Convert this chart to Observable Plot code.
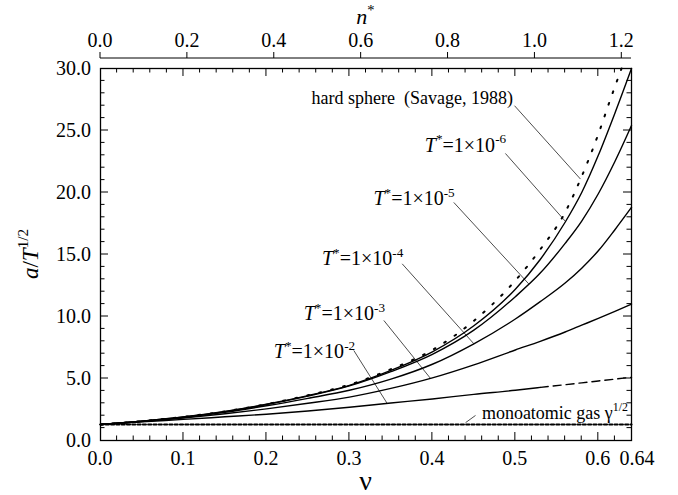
<!DOCTYPE html>
<html>
<head>
<meta charset="utf-8">
<script src="https://cdn.jsdelivr.net/npm/d3@7"></script>
<script src="https://cdn.jsdelivr.net/npm/@observablehq/plot@0.6"></script>
<style>
  html, body { margin: 0; padding: 0; background: #fff; }
</style>
</head>
<body>
<div id="chart"></div>
<script>
// Solid volume fraction grid shared by the soft-sphere curves
const nuGrid = [0, 0.05, 0.10, 0.15, 0.20, 0.25, 0.30, 0.35, 0.40, 0.45, 0.50, 0.53, 0.56, 0.58, 0.60, 0.62, 0.64];

// Sound speed a/T^(1/2) for soft spheres at several reduced temperatures T*
const curveT6 = [1.29, 1.56, 1.90, 2.34, 2.92, 3.62, 4.45, 5.65, 7.15, 9.25, 12.2, 14.6, 17.6, 20.0, 23.0, 26.4, 30.0];
const curveT5 = [1.29, 1.56, 1.89, 2.33, 2.90, 3.58, 4.40, 5.55, 6.95, 8.90, 11.6, 13.5, 15.9, 17.7, 19.9, 22.5, 25.4];
const curveT4 = [1.29, 1.55, 1.86, 2.27, 2.80, 3.40, 4.05, 4.95, 6.15, 7.80, 9.80, 11.2, 12.7, 13.9, 15.3, 17.0, 18.8];
const curveT3 = [1.29, 1.53, 1.82, 2.16, 2.55, 3.00, 3.50, 4.20, 5.05, 6.10, 7.30, 8.00, 8.75, 9.30, 9.85, 10.42, 11.0];

// T* = 1e-2: solid part, then the dashed continuation
const nuT2 = [0, 0.05, 0.10, 0.15, 0.20, 0.25, 0.30, 0.35, 0.40, 0.45, 0.50, 0.53];
const curveT2 = [1.29, 1.50, 1.70, 1.91, 2.12, 2.38, 2.68, 3.02, 3.35, 3.72, 4.05, 4.28];
const nuT2ext = [0.53, 0.56, 0.58, 0.60, 0.62, 0.64];
const curveT2ext = [4.28, 4.50, 4.65, 4.80, 4.95, 5.10];

// Hard-sphere result (Savage, 1988)
const nuHard = [0, 0.05, 0.10, 0.15, 0.20, 0.25, 0.30, 0.35, 0.40, 0.45, 0.50, 0.53, 0.56, 0.58, 0.60, 0.615, 0.628];
const curveHard = [1.29, 1.56, 1.90, 2.35, 2.93, 3.65, 4.50, 5.75, 7.30, 9.65, 12.9, 15.4, 18.4, 21.3, 24.7, 27.6, 30.0];

// Monoatomic gas limit gamma^(1/2)
const gasNu = [0, 0.64];
const gasValue = 1.29;

// Axis ticks and labels
const xTicks = [0, 0.1, 0.2, 0.3, 0.4, 0.5, 0.6, 0.64];
const xTickLabels = ["0.0", "0.1", "0.2", "0.3", "0.4", "0.5", "0.6", "0.64"];
const yTicks = [0, 5, 10, 15, 20, 25, 30];
const yTickLabels = ["0.0", "5.0", "10.0", "15.0", "20.0", "25.0", "30.0"];
const nStarTicks = [0, 0.2, 0.4, 0.6, 0.8, 1.0, 1.2];
const nStarTickLabels = ["0.0", "0.2", "0.4", "0.6", "0.8", "1.0", "1.2"];

const rows = (name, xs, ys) => xs.map((nu, i) => ({series: name, nu, v: ys[i]}));
const solidRows = [
  ...rows("T6", nuGrid, curveT6),
  ...rows("T5", nuGrid, curveT5),
  ...rows("T4", nuGrid, curveT4),
  ...rows("T3", nuGrid, curveT3),
  ...rows("T2", nuT2, curveT2)
];
const dashedRows = rows("T2", nuT2ext, curveT2ext);
const hardRows = rows("hard", nuHard, curveHard);
const gasRows = gasNu.map(nu => ({nu, v: gasValue}));

// value of a curve at volume fraction t (linear between samples)
function valueAt(xs, ys, t) {
  for (let i = 1; i < xs.length; i++) {
    if (t <= xs[i]) {
      const f = (t - xs[i - 1]) / (xs[i] - xs[i - 1]);
      return ys[i - 1] + f * (ys[i] - ys[i - 1]);
    }
  }
  return ys[ys.length - 1];
}

// Curve labels: text anchor, leader start, and the volume fraction where the leader meets its curve
const sup = t => ({t, sup: true});
const it = t => ({t, it: true});
const annotations = [
  {parts: [{t: "hard sphere\u00a0\u00a0(Savage, 1988)"}], x: 0.4977, y: 27.1, anchor: "end", size: 18,
   from: [0.499, 27.0], to: 0.5785, xs: nuHard, ys: curveHard},
  {parts: [it("T"), sup("*"), {t: "=1×10"}, sup("-6")], x: 0.4895, y: 23.25, anchor: "end", size: 20,
   from: [0.488, 23.15], to: 0.5605, xs: nuGrid, ys: curveT6},
  {parts: [it("T"), sup("*"), {t: "=1×10"}, sup("-5")], x: 0.4275, y: 18.95, anchor: "end", size: 20,
   from: [0.4258, 19.2], to: 0.5162, xs: nuGrid, ys: curveT5},
  {parts: [it("T"), sup("*"), {t: "=1×10"}, sup("-4")], x: 0.3655, y: 14.11, anchor: "end", size: 20,
   from: [0.3636, 14.25], to: 0.45, xs: nuGrid, ys: curveT4},
  {parts: [it("T"), sup("*"), {t: "=1×10"}, sup("-3")], x: 0.3435, y: 9.68, anchor: "end", size: 20,
   from: [0.3415, 9.68], to: 0.3977, xs: nuGrid, ys: curveT3},
  {parts: [it("T"), sup("*"), {t: "=1×10"}, sup("-2")], x: 0.3075, y: 6.61, anchor: "end", size: 20,
   from: [0.3053, 7.26], to: 0.3455, xs: nuT2, ys: curveT2},
  {parts: [{t: "monoatomic gas γ"}, sup("1/2")], x: 0.6364, y: 1.69, anchor: "end", size: 18,
   from: [0.452, 2.02], to: 0.44, xs: gasNu, ys: [gasValue + 0.15, gasValue + 0.15]}
];
const leaders = annotations.map(a => ({
  x1: a.from[0], y1: a.from[1], x2: a.to, y2: valueAt(a.xs, a.ys, a.to)
}));

const FONT = "'Liberation Serif', 'Times New Roman', serif";

// text with italic pieces and superscripts
function richText(parent, x, y, parts, size, anchor) {
  const t = parent.append("text")
    .attr("x", x).attr("y", y)
    .attr("font-size", size)
    .attr("text-anchor", anchor);
  let shift = 0;
  for (const p of parts) {
    const s = t.append("tspan").text(p.t);
    if (p.it) s.attr("font-style", "italic");
    const target = p.sup ? -0.42 * size : 0;
    if (target !== shift) { s.attr("dy", target - shift); shift = target; }
    if (p.sup) s.attr("font-size", size * 0.66);
  }
  return t;
}

// Frame ticks on all four sides, the upper n* axis, tick labels and axis titles
function axesMark(index, scales, values, dims) {
  const {x, y} = scales;
  const left = dims.marginLeft, right = dims.width - dims.marginRight;
  const top = dims.marginTop, bottom = dims.height - dims.marginBottom;
  const g = d3.create("svg:g").attr("font-family", FONT);

  const ticks = g.append("g").attr("stroke", "black").attr("stroke-width", 1).attr("fill", "none");
  // volume fraction ticks every 0.02, inward on the bottom and top edges
  for (let i = 1; i < 32; i++) {
    const px = x(i * 0.02);
    const len = i % 5 === 0 ? 8 : 4.5;
    ticks.append("line").attr("x1", px).attr("x2", px).attr("y1", bottom).attr("y2", bottom - len);
    ticks.append("line").attr("x1", px).attr("x2", px).attr("y1", top).attr("y2", top + len);
  }
  // a/T^(1/2) ticks every 1.0, inward on the left and right edges
  for (let k = 1; k < 30; k++) {
    const py = y(k);
    const len = k % 5 === 0 ? 8 : 4.5;
    ticks.append("line").attr("x1", left).attr("x2", left + len).attr("y1", py).attr("y2", py);
    ticks.append("line").attr("x1", right).attr("x2", right - len).attr("y1", py).attr("y2", py);
  }
  // upper axis: number density n* = 6 nu / pi
  const axisTop = top - 10;
  ticks.append("line").attr("x1", left).attr("x2", right).attr("y1", axisTop).attr("y2", axisTop);
  const labels = g.append("g").attr("fill", "black").attr("font-size", 20);
  nStarTicks.forEach((n, i) => {
    const px = x(n * Math.PI / 6);
    ticks.append("line").attr("x1", px).attr("x2", px).attr("y1", axisTop).attr("y2", axisTop - 6);
    labels.append("text").attr("x", px).attr("y", axisTop - 11)
      .attr("text-anchor", "middle").text(nStarTickLabels[i]);
  });
  // bottom tick labels
  xTicks.forEach((t, i) => {
    const last = i === xTicks.length - 1;
    labels.append("text").attr("x", x(t) + (last ? 6 : 0)).attr("y", bottom + 25)
      .attr("text-anchor", "middle").text(xTickLabels[i]);
  });
  // left tick labels
  yTicks.forEach((t, i) => {
    labels.append("text").attr("x", left - 9).attr("y", y(t)).attr("dy", "0.33em")
      .attr("text-anchor", "end").text(yTickLabels[i]);
  });

  // axis titles
  const titles = g.append("g").attr("fill", "black");
  const cx = (left + right) / 2;
  richText(titles, cx, 24, [it("n"), sup("*")], 22, "middle");
  titles.append("text").attr("x", cx).attr("y", 490).attr("font-size", 28)
    .attr("text-anchor", "middle").text("ν");
  const yt = titles.append("g").attr("transform", `translate(38,${(top + bottom) / 2}) rotate(-90)`);
  richText(yt, 0, 0, [it("a"), {t: "/"}, it("T"), sup("1/2")], 23, "middle");
  return g.node();
}

// Curve labels
function labelsMark(index, scales) {
  const g = d3.create("svg:g").attr("font-family", FONT).attr("fill", "black");
  for (const a of annotations) {
    richText(g, scales.x(a.x), scales.y(a.y), a.parts, a.size, a.anchor);
  }
  return g.node();
}

const chart = Plot.plot({
  width: 678,
  height: 495,
  marginLeft: 100,
  marginRight: 47,
  marginTop: 68,
  marginBottom: 55,
  x: {domain: [0, 0.64], axis: null},
  y: {domain: [0, 30], axis: null},
  style: {background: "white", fontFamily: FONT, overflow: "visible"},
  marks: [
    Plot.line(gasRows, {x: "nu", y: "v", stroke: "black", strokeWidth: 2.2, strokeDasharray: "3,2.3"}),
    Plot.line(solidRows, {x: "nu", y: "v", z: "series", stroke: "black", strokeWidth: 1.4, curve: "monotone-x"}),
    Plot.line(dashedRows, {x: "nu", y: "v", stroke: "black", strokeWidth: 1.4, strokeDasharray: "8,5", curve: "monotone-x"}),
    Plot.line(hardRows, {x: "nu", y: "v", stroke: "black", strokeWidth: 2, strokeDasharray: "1.8,10.5", curve: "monotone-x"}),
    Plot.link(leaders, {x1: "x1", y1: "y1", x2: "x2", y2: "y2", stroke: "black", strokeWidth: 0.7}),
    Plot.frame({stroke: "black", strokeWidth: 1.3}),
    axesMark,
    labelsMark
  ]
});

document.getElementById("chart").appendChild(chart);
</script>
</body>
</html>
